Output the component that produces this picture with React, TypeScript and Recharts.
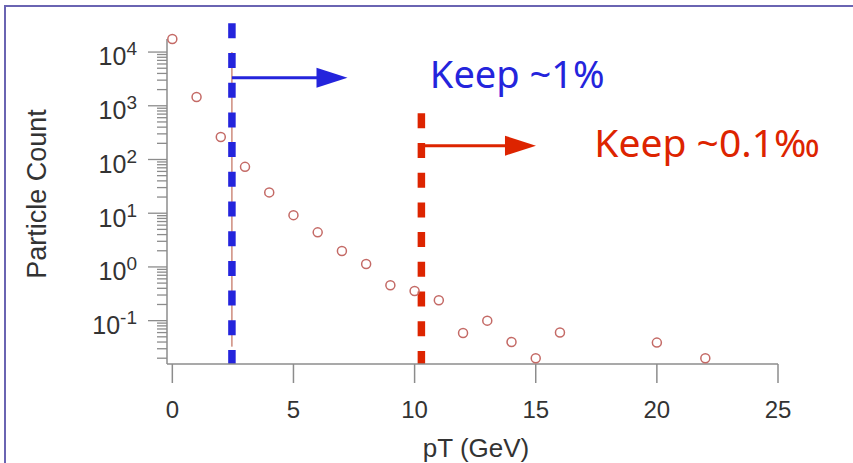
import React from "react";
import {
  ScatterChart,
  Scatter,
  XAxis,
  YAxis,
  ReferenceLine,
  ReferenceDot,
} from "recharts";

// pT bins (GeV) and particle counts
const ptValues = [0, 1, 2, 3, 4, 5, 6, 7, 8, 9, 10, 11, 12, 13, 14, 15, 16, 20, 22];
const counts = [
  17500, 1460, 263, 73, 24.4, 9.2, 4.4, 1.98, 1.13, 0.455, 0.356, 0.239, 0.059,
  0.1, 0.04, 0.02, 0.06, 0.039, 0.02,
];

const xTicks = [0, 5, 10, 15, 20, 25];
const yMajorTicks = [0.1, 1, 10, 100, 1000, 10000];
const yMajorLabels = ["-1", "0", "1", "2", "3", "4"];
const yMinorTicks = [
  0.02, 0.03, 0.04, 0.05, 0.06, 0.07, 0.08, 0.09,
  0.2, 0.3, 0.4, 0.5, 0.6, 0.7, 0.8, 0.9,
  2, 3, 4, 5, 6, 7, 8, 9,
  20, 30, 40, 50, 60, 70, 80, 90,
  200, 300, 400, 500, 600, 700, 800, 900,
  2000, 3000, 4000, 5000, 6000, 7000, 8000, 9000,
];

// cut annotations
const cutX = [2.46, 10.28];
const cutTop = [34300, 725];
const cutColors = ["#2424dc", "#dd2400"];
const arrowTo = [7.23, 15.01];
const arrowY = [3330, 181];
const labelX = [10.63, 17.42];
const labelY = [2115, 113];
const labelText = ["Keep ~1%", "Keep ~0.1‰"];
const labelSize = [38, 39];

const Y_MIN = 0.0156;
const Y_MAX = 17500;
const AXIS_FONT = "'Liberation Sans', Arial, sans-serif";
const AXIS_GRAY = "#8c8c8c";

const data = ptValues.map((pt, i) => ({ x: pt, y: counts[i] }));

const YTick = (props: any) => {
  const { x, y, payload } = props;
  const idx = yMajorTicks.indexOf(payload.value);
  const major = idx >= 0;
  return (
    <g>
      <line
        x1={x - (major ? 19 : 10)}
        x2={x}
        y1={y}
        y2={y}
        stroke={AXIS_GRAY}
        strokeWidth={1.3}
      />
      {major && (
        <text
          x={x - 30}
          y={y + 13.3}
          textAnchor="end"
          fontSize={25}
          fontFamily={AXIS_FONT}
          fill="#333"
        >
          10
          <tspan dy={-10} fontSize={19}>
            {yMajorLabels[idx]}
          </tspan>
        </text>
      )}
    </g>
  );
};

const arrowShape = (color: string) => (props: any) => {
  const { x1, y1, x2 } = props;
  const head = 31;
  return (
    <g>
      <line x1={x1} y1={y1} x2={x2 - head + 2} y2={y1} stroke={color} strokeWidth={3} />
      <polygon
        points={`${x2},${y1} ${x2 - head},${y1 - 10} ${x2 - head},${y1 + 10}`}
        fill={color}
      />
    </g>
  );
};

const textShape = (text: string, color: string, size: number) => (props: any) => (
  <text
    x={props.cx}
    y={props.cy}
    fontSize={size}
    fontFamily="'Noto Sans', sans-serif"
    fill={color}
  >
    {text}
  </text>
);

export default function App() {
  return (
    <div style={{ position: "relative", width: 853, height: 463, background: "#fff" }}>
      <style>{`body{margin:0}`}</style>
      <div
        style={{
          position: "absolute",
          left: 4,
          top: 5,
          right: 0,
          bottom: 0,
          borderTop: "2px solid #6a64b2",
          borderLeft: "2px solid #6a64b2",
        }}
      />
      <div style={{ position: "absolute", left: 0, top: 0 }}>
        <ScatterChart
          width={853}
          height={463}
          margin={{ top: 39, right: 75, bottom: 0, left: 0 }}
        >
          <XAxis
            type="number"
            dataKey="x"
            domain={[-0.22, 25]}
            ticks={xTicks}
            interval={0}
            height={99}
            tickSize={19}
            tickMargin={18}
            axisLine={{ stroke: AXIS_GRAY, strokeWidth: 1.5 }}
            tickLine={{ stroke: AXIS_GRAY, strokeWidth: 1.5 }}
            tick={{ fill: "#333", fontSize: 24, fontFamily: AXIS_FONT }}
            label={{
              content: () => (
                <text
                  x={476}
                  y={457}
                  textAnchor="middle"
                  fontSize={26}
                  fontFamily={AXIS_FONT}
                  fill="#333"
                >
                  pT (GeV)
                </text>
              ),
            }}
          />
          <YAxis
            type="number"
            dataKey="y"
            scale="log"
            domain={[Y_MIN, Y_MAX]}
            ticks={[...yMajorTicks, ...yMinorTicks]}
            interval={0}
            width={167}
            tickSize={0}
            tickMargin={0}
            tickLine={false}
            axisLine={{ stroke: AXIS_GRAY, strokeWidth: 1.5 }}
            tick={<YTick />}
            label={{
              content: () => (
                <text
                  x={46}
                  y={194}
                  transform="rotate(-90, 46, 194)"
                  textAnchor="middle"
                  fontSize={27}
                  fontFamily={AXIS_FONT}
                  fill="#333"
                >
                  Particle Count
                </text>
              ),
            }}
          />
          <Scatter
            data={data}
            isAnimationActive={false}
            shape={(p: any) => (
              <circle cx={p.cx} cy={p.cy} r={4.5} fill="none" stroke="#c46a66" strokeWidth={1.5} />
            )}
          />
          <ReferenceLine
            segment={[
              { x: cutX[0], y: 10000 },
              { x: cutX[0], y: 0.0328 },
            ]}
            stroke="#b5523c"
            strokeWidth={1}
            ifOverflow="visible"
          />
          {cutX.map((cx, i) => (
            <ReferenceLine
              key={`cut-${i}`}
              segment={[
                { x: cx, y: cutTop[i] },
                { x: cx, y: Y_MIN },
              ]}
              stroke={cutColors[i]}
              strokeWidth={7.5}
              strokeDasharray="15 14.7"
              ifOverflow="visible"
            />
          ))}
          {cutX.map((cx, i) => (
            <ReferenceLine
              key={`arrow-${i}`}
              segment={[
                { x: cx, y: arrowY[i] },
                { x: arrowTo[i], y: arrowY[i] },
              ]}
              ifOverflow="visible"
              shape={arrowShape(cutColors[i])}
            />
          ))}
          {labelText.map((t, i) => (
            <ReferenceDot
              key={`label-${i}`}
              x={labelX[i]}
              y={labelY[i]}
              r={0}
              ifOverflow="visible"
              shape={textShape(t, cutColors[i], labelSize[i])}
            />
          ))}
        </ScatterChart>
      </div>
    </div>
  );
}
